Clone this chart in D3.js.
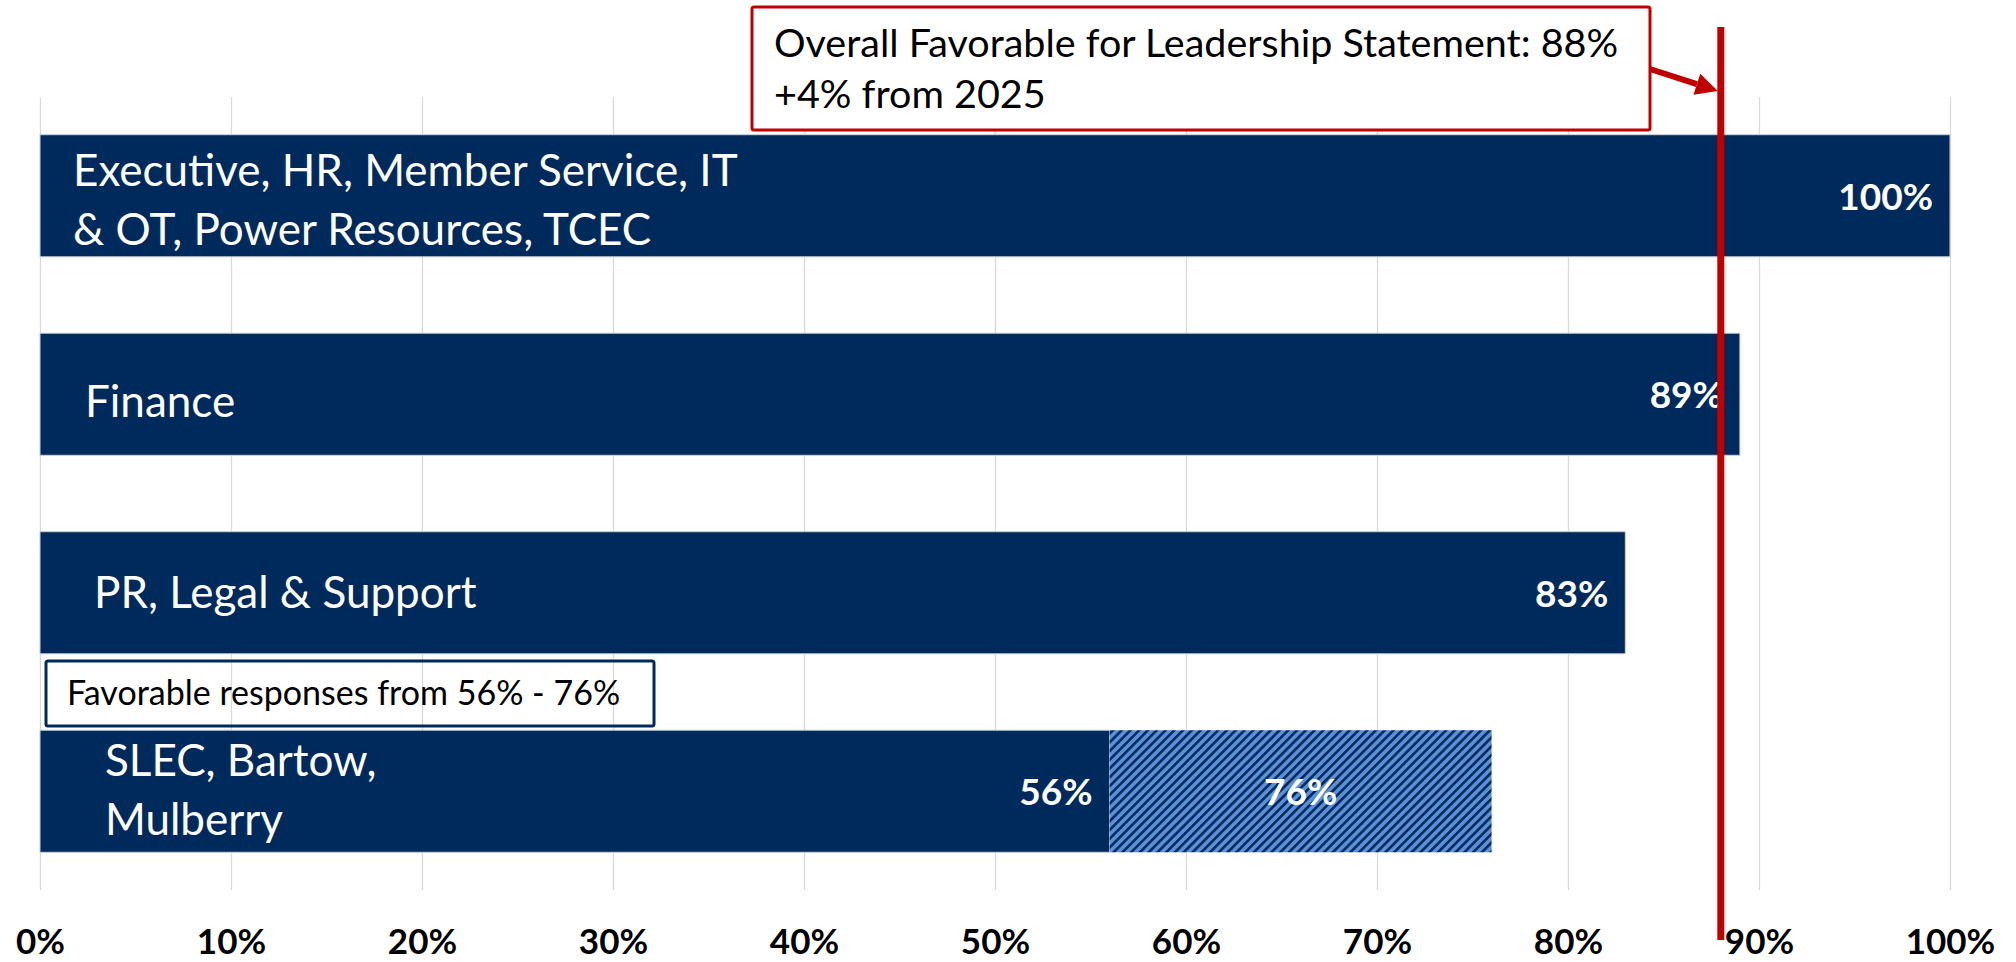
<!DOCTYPE html>
<html>
<head>
<meta charset="utf-8">
<script src="https://cdn.jsdelivr.net/npm/d3@7"></script>
<style>
  body { margin: 0; background: #fff; }
  svg { display: block; font-family: Lato, "Open Sans", sans-serif; }
</style>
</head>
<body>
<div id="chart"></div>
<script>
// data
const categories = ["exec", "finance", "pr", "slec"];
const categoryLines = [
  ["Executive, HR, Member Service, IT", "& OT, Power Resources, TCEC"],
  ["Finance"],
  ["PR, Legal & Support"],
  ["SLEC, Bartow,", "Mulberry"]
];
const favorable = [100, 89, 83, 56];
const rangeHigh = [null, null, null, 76];
const overallFavorable = 88;
const overallChange = "+4% from 2025";
const xTicks = [0, 10, 20, 30, 40, 50, 60, 70, 80, 90, 100];

const navy = "#002a5c";
const lightBlue = "#5b90d9";
const red = "#c00000";

const W = 2016, H = 962;
const plotTop = 97, plotBottom = 890;

const svg = d3.select("#chart").append("svg")
  .attr("width", W)
  .attr("height", H);

const x = d3.scaleLinear().domain([0, 100]).range([40, 1950]);
const y = d3.scaleBand().domain(categories).range([plotTop, plotBottom])
  .paddingInner(0.385).paddingOuter(0.19);

// hatch pattern for the range segment
const defs = svg.append("defs");
const pat = defs.append("pattern")
  .attr("id", "hatch")
  .attr("patternUnits", "userSpaceOnUse")
  .attr("width", 6.2).attr("height", 6.2)
  .attr("patternTransform", "rotate(45)");
pat.append("rect").attr("width", 6.2).attr("height", 6.2).attr("fill", lightBlue);
pat.append("rect").attr("width", 2.6).attr("height", 6.2).attr("fill", navy);

// gridlines
const grid = svg.append("g")
  .attr("transform", `translate(0,${plotBottom})`)
  .call(d3.axisBottom(x).tickValues(xTicks).tickSize(-(plotBottom - plotTop)).tickFormat(""));
grid.select(".domain").remove();
grid.selectAll("line").attr("stroke", "#d9d9d9").attr("stroke-width", 1.3);

// tick labels
const axis = svg.append("g")
  .attr("transform", `translate(0,${plotBottom})`)
  .call(d3.axisBottom(x).tickValues(xTicks).tickSize(0).tickPadding(39).tickFormat(d => d + "%"));
axis.select(".domain").remove();
axis.selectAll("text")
  .attr("font-family", "Lato, sans-serif")
  .attr("font-size", 35)
  .attr("font-weight", "bold")
  .attr("fill", "#000");

// bars
const rows = categories.map((c, i) => ({ c, i, v: favorable[i], hi: rangeHigh[i], lines: categoryLines[i] }));

svg.append("g").selectAll("rect")
  .data(rows)
  .join("rect")
  .attr("x", x(0))
  .attr("y", d => y(d.c))
  .attr("width", d => x(d.v) - x(0))
  .attr("height", y.bandwidth())
  .attr("fill", navy)
  .attr("stroke", "#c8d1de")
  .attr("stroke-width", 1);

svg.append("g").selectAll("rect")
  .data(rows.filter(d => d.hi != null))
  .join("rect")
  .attr("x", d => x(d.v))
  .attr("y", d => y(d.c))
  .attr("width", d => x(d.hi) - x(d.v))
  .attr("height", y.bandwidth())
  .attr("fill", "url(#hatch)");

// category labels inside bars (small nudges like the hand-placed text boxes)
const labelNudge = [{ dx: 33, dy: 5 }, { dx: 45, dy: 8 }, { dx: 54, dy: 0 }, { dx: 65, dy: -1 }];
const lineGap = 59;
svg.append("g").selectAll("text")
  .data(rows)
  .join("text")
  .attr("x", d => x(0) + labelNudge[d.i].dx)
  .attr("y", d => y(d.c) + y.bandwidth() / 2 + labelNudge[d.i].dy + 15 - (d.lines.length - 1) * lineGap / 2)
  .attr("fill", "#fff")
  .attr("font-size", 44)
  .selectAll("tspan")
  .data(d => d.lines.map((t, k) => ({ t, k, x0: x(0) + labelNudge[d.i].dx })))
  .join("tspan")
  .attr("x", d => d.x0)
  .attr("dy", d => d.k === 0 ? 0 : lineGap)
  .text(d => d.t);

// value labels
svg.append("g").selectAll("text")
  .data(rows)
  .join("text")
  .attr("x", d => x(d.v) - 17)
  .attr("y", d => y(d.c) + y.bandwidth() / 2 + 14)
  .attr("text-anchor", "end")
  .attr("fill", "#fff")
  .attr("font-size", 37)
  .attr("font-weight", "bold")
  .text(d => d.v + "%");

svg.append("g").selectAll("text")
  .data(rows.filter(d => d.hi != null))
  .join("text")
  .attr("x", d => (x(d.v) + x(d.hi)) / 2)
  .attr("y", d => y(d.c) + y.bandwidth() / 2 + 14)
  .attr("text-anchor", "middle")
  .attr("fill", "#fff")
  .attr("font-size", 37)
  .attr("font-weight", "bold")
  .text(d => d.hi + "%");

// range note box
const slec = rows[3];
svg.append("rect")
  .attr("x", 46).attr("y", 661)
  .attr("width", 608).attr("height", 65)
  .attr("fill", "none")
  .attr("stroke", navy)
  .attr("stroke-width", 3)
  .attr("rx", 2);
svg.append("text")
  .attr("x", 67).attr("y", 705)
  .attr("font-size", 34)
  .attr("fill", "#000")
  .text(`Favorable responses from ${slec.v}% - ${slec.hi}%`);

// overall reference line
svg.append("line")
  .attr("x1", x(overallFavorable)).attr("x2", x(overallFavorable))
  .attr("y1", 27).attr("y2", 940)
  .attr("stroke", red)
  .attr("stroke-width", 7);

// callout
svg.append("rect")
  .attr("x", 752).attr("y", 7)
  .attr("width", 898).attr("height", 123)
  .attr("fill", "#fff")
  .attr("stroke", red)
  .attr("stroke-width", 3)
  .attr("rx", 2);
const callout = svg.append("text")
  .attr("x", 774).attr("y", 57)
  .attr("font-size", 39.5)
  .attr("fill", "#000");
callout.append("tspan").attr("x", 774).text(`Overall Favorable for Leadership Statement: ${overallFavorable}%`);
callout.append("tspan").attr("x", 774).attr("dy", 51).text(overallChange);

// arrow from callout to the line
const tipX = x(overallFavorable) - 3, tipY = 91;
const startX = 1650, startY = 69;
const ang = Math.atan2(tipY - startY, tipX - startX);
const headLen = 22, headW = 11;
const baseX = tipX - headLen * Math.cos(ang), baseY = tipY - headLen * Math.sin(ang);
svg.append("line")
  .attr("x1", startX).attr("y1", startY)
  .attr("x2", baseX).attr("y2", baseY)
  .attr("stroke", red)
  .attr("stroke-width", 6);
svg.append("polygon")
  .attr("points", [
    [tipX, tipY],
    [baseX + headW * Math.sin(ang), baseY - headW * Math.cos(ang)],
    [baseX - headW * Math.sin(ang), baseY + headW * Math.cos(ang)]
  ].map(p => p.join(",")).join(" "))
  .attr("fill", red);
</script>
</body>
</html>
